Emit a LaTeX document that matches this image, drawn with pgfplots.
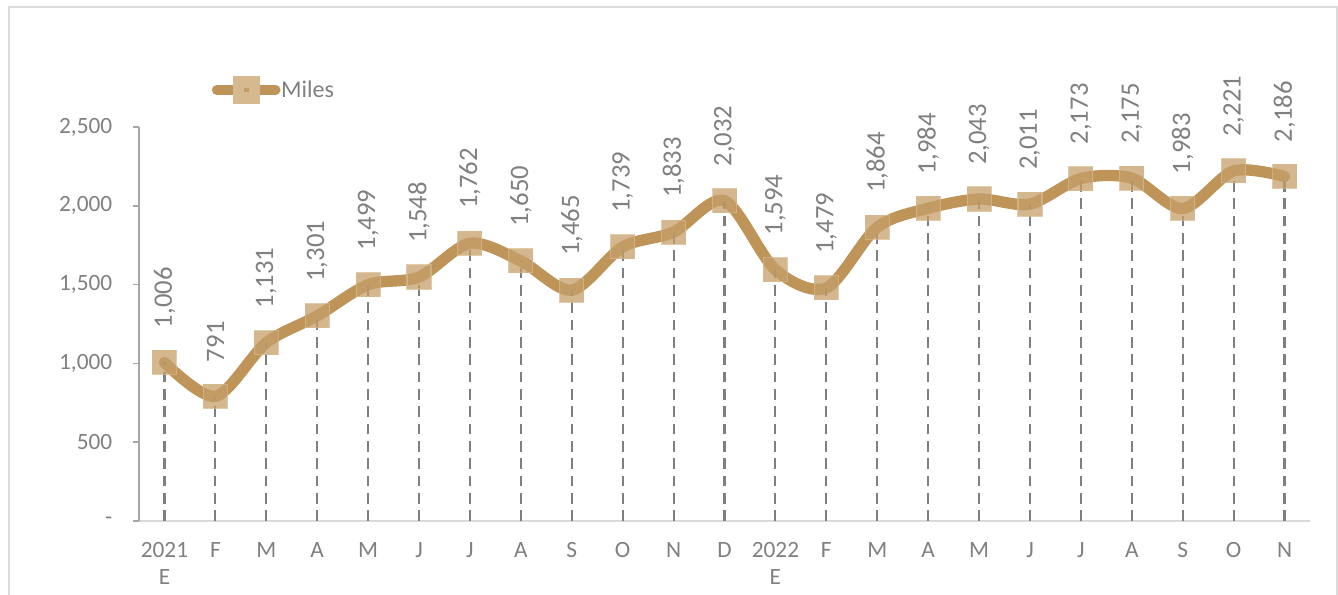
\documentclass[border=0pt]{standalone}
\usepackage{pgfplots}
\pgfplotsset{compat=1.18}
\usepackage{fontspec}
\setmainfont{Carlito}
\definecolor{linec}{HTML}{BE9459}
\definecolor{markc}{HTML}{C69E69}
\definecolor{markd}{HTML}{D6B98E}
\definecolor{txt}{HTML}{808080}
\definecolor{dropc}{HTML}{7F7F7F}
\begin{document}
\begin{tikzpicture}
\path[use as bounding box] (0pt,0pt) rectangle (1003.5pt,446.25pt);
\draw[color=black!14, line width=1.5pt] (6.4pt,-8pt) -- (6.4pt,441pt) -- (1002.75pt,441pt) -- (1002.75pt,-8pt);
\begin{axis}[
  at={(104.25pt,55.5pt)}, anchor=south west,
  scale only axis, width=878.25pt, height=295.5pt,
  xmin=-0.5, xmax=22.5, ymin=0, ymax=2500,
  clip=false,
  axis x line=bottom, axis y line=left,
  axis line style={-},
  x axis line style={color=black!15, line width=1.2pt},
  y axis line style={color=black!35, line width=1.2pt},
  xtick={0,...,22},
  xticklabels={{2021\\E},F,M,A,M,J,J,A,S,O,N,D,{2022\\E},F,M,A,M,J,J,A,S,O,N},
  x tick label style={align=center, font=\fontsize{17.5}{20}\selectfont, text=txt, yshift=-8pt},
  xtick style={draw=none},
  ytick={0,500,1000,1500,2000,2500},
  yticklabels={-,500,{1,000},{1,500},{2,000},{2,500}},
  y tick label style={font=\fontsize{17.5}{20}\selectfont, text=txt, xshift=-12pt},
  ytick style={color=black!35, line width=1.2pt},
  tick align=outside, major tick length=4.5pt,
  /pgf/number format/assume math mode=true,
  legend style={at={(0.062,1.094)}, anchor=west, draw=none, fill=none,
    font=\fontsize{18}{20}\selectfont, text=txt, inner sep=0pt,
    nodes={inner sep=0.5pt}},
  legend image code/.code={%
    \draw[line width=7.5pt, line cap=round, color=linec] (0pt,0pt) -- (44pt,0pt);
    \node[rectangle, minimum size=12pt, inner sep=0pt, fill=markc, fill opacity=0.8, draw=markd] at (22pt,0pt) {};},
]
\addplot[color=linec, line width=8.5pt, line cap=round, smooth, tension=0.5,
  mark=square*, mark size=9pt,
  mark options={fill=markc, draw=markd, line width=0.8pt, opacity=0.75},
  nodes near coords={\pgfmathprintnumber[1000 sep={,}]{\pgfplotspointmeta}},
  every node near coord/.append style={anchor=west, rotate=90, xshift=22pt, yshift=0pt,
    font=\fontsize{20}{22}\selectfont, text=txt, opacity=1},
] coordinates {
(0,1006) (1,791) (2,1131) (3,1301) (4,1499) (5,1548) (6,1762) (7,1650)
(8,1465) (9,1739) (10,1833) (11,2032) (12,1594) (13,1479) (14,1864) (15,1984)
(16,2043) (17,2011) (18,2173) (19,2175) (20,1983) (21,2221) (22,2186)
};
\addlegendentry{Miles}
\addplot[ycomb, color=dropc, line width=1.6pt, dash pattern=on 8pt off 5pt, forget plot] coordinates {
(0,1006) (1,791) (2,1131) (3,1301) (4,1499) (5,1548) (6,1762) (7,1650)
(8,1465) (9,1739) (10,1833) (11,2032) (12,1594) (13,1479) (14,1864) (15,1984)
(16,2043) (17,2011) (18,2173) (19,2175) (20,1983) (21,2221) (22,2186)
};
\end{axis}
\end{tikzpicture}
\end{document}
